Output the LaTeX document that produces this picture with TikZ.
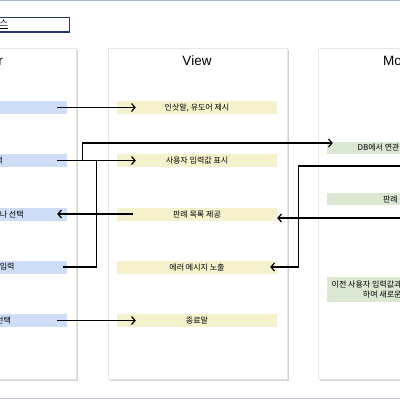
\documentclass[tikz,border=0pt]{standalone}
\usepackage{fontspec}
\setmainfont{Liberation Sans}
\newfontfamily\kr{Noto Sans CJK KR}
\usetikzlibrary{arrows.meta,calc}
\definecolor{cblue}{HTML}{CFDDF7}
\definecolor{vyellow}{HTML}{F6F1CD}
\definecolor{mgreen}{HTML}{DAE8D3}
\definecolor{navy}{HTML}{1F3A6E}
\definecolor{rulec}{HTML}{A9B6CE}
\definecolor{pborder}{HTML}{E6E6E6}
\definecolor{pshadow}{HTML}{D2D2D2}
\begin{document}
\begin{tikzpicture}[x=1pt,y=-1pt,
  box/.style={minimum width=160pt,minimum height=13pt,inner sep=0pt,
    font=\kr\fontsize{8}{10}\selectfont,text=black,align=center},
  cb/.style={box,fill=cblue},
  vb/.style={box,fill=vyellow},
  mb/.style={box,fill=mgreen,minimum height=12pt},
  conn/.style={line width=1.3pt,black},
  arr/.style={conn,-{Straight Barb[length=3.5pt,width=8pt,line width=1.2pt]}},
  panel/.style={draw=pborder,line width=0.8pt,fill=white},
  hdr/.style={font=\fontsize{13.5}{16}\selectfont,inner sep=0pt}]
\useasboundingbox (0,0) rectangle (400,400);
\clip (0,0) rectangle (400,400);
\fill[white] (0,0) rectangle (400,400);
% top and bottom rules
\draw[rulec,line width=1.5pt] (0,0.5) -- (400,0.5);
\draw[rulec!80,line width=1.5pt] (0,398.5) -- (400,398.5);
% title
\node[draw=navy,line width=1.5pt,minimum width=190pt,minimum height=14.5pt,inner sep=0pt,anchor=east] (title) at (70,24.5) {};
\node[font=\kr\fontsize{9}{10}\selectfont,inner sep=0pt,anchor=east] (titletext) at (8,24) {\underline{판례 검색 서비스}};
% panels
\foreach \xa/\xb in {-104/76,108/287,318/498}{
  \fill[pshadow] (\xa+1.5,49.5) rectangle (\xb+1.5,380.5);
  \draw[panel] (\xa,48) rectangle (\xb,379);
}
\node[hdr,anchor=base east] (hc) at (3,65) {Controller};
\node[hdr,anchor=base] (hv) at (197,65) {View};
\node[hdr,anchor=base west] (hm) at (383,65) {Model};
% controller boxes
\node[cb] (c1) at (-13,107.5) {시작};
\node[cb] (c2) at (-13,160.5) {질문 선택};
\node[cb] (c3) at (-13,214) {판례 목록 중 하나 선택};
\node[cb] (c4) at (-13,267) {사용자 정보 입력};
\node[cb] (c5) at (-13,320.5) {종료 버튼 선택};
% view boxes
\node[vb] (v1) at (197,107.5) {인삿말, 유도어 제시};
\node[vb] (v2) at (197,160.5) {사용자 입력값 표시};
\node[vb] (v3) at (197,214) {판례 목록 제공};
\node[vb] (v4) at (197,267) {에러 메시지 노출};
\node[vb] (v5) at (197,320.5) {종료말};
% model boxes
\node[mb] (m1) at (407,147.5) {DB에서 연관성 높은 판례 검색};
\node[mb] (m2) at (407,199) {판례 목록 반환};
\node[mb,minimum height=25pt] (m3) at (407,289) {이전 사용자 입력값과 현재 입력값을 함께 비교\\하여 새로운 판례 목록 검색};
% connectors
\draw[arr] ($(c1.east)+(-10,0)$) -- ($(v1.west)+(19,0)$);
\draw[arr] ($(c2.east)+(-10,0)$) -- ($(v2.west)+(19,0)$);
\draw[arr] ($(c2.east)+(15,0)$) |- ($(m1.west)+(6,-4.5)$);
\draw[conn] ($(c4.east)+(-4,0)$) -| ($(c2.east)+(29.5,0)$);
\draw[arr] ($(v3.west)+(16,0)$) -- ($(c3.east)+(-10,0)$);
\coordinate (r1) at (410,218);
\draw[arr] (r1) -- (v3.east |- r1);
\coordinate (r2) at (410,166);
\draw[arr] (r2) -| ($(v4.east)+(21,0)$) -- ($(v4.east)+(-7,0)$);
\draw[arr] ($(c5.east)+(-10,0)$) -- ($(v5.west)+(19,0)$);
\end{tikzpicture}
\end{document}
